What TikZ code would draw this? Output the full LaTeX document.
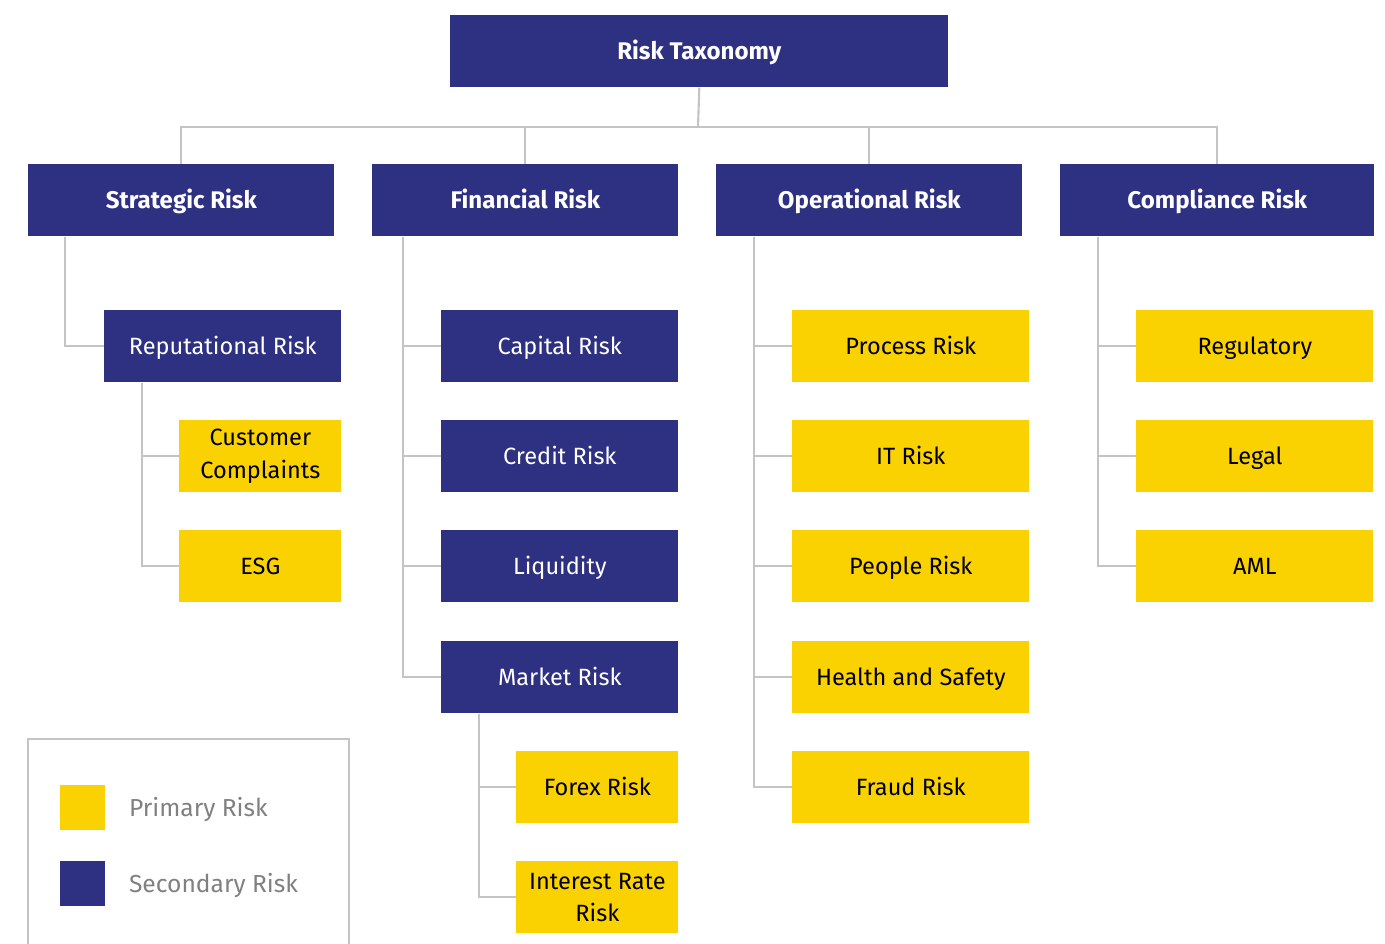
\documentclass[tikz,border=0pt]{standalone}
\usepackage{fontspec}
\setmainfont{Fira Sans}
\usetikzlibrary{positioning, calc}
\definecolor{navy}{HTML}{2E3081}
\definecolor{gold}{HTML}{FAD201}
\definecolor{wire}{HTML}{C4C4C4}
\definecolor{keytext}{HTML}{808080}
\newcommand{\boxfont}{\fontsize{13.4}{18.5}\selectfont}
\newcommand{\headfont}{\fontsize{13.7}{18.5}\selectfont\bfseries}

\begin{document}
\begin{tikzpicture}[x=0.02cm, y=-0.02cm,
    every node/.style={shape=rectangle, inner sep=0pt, minimum height=1.44cm, align=center, font=\boxfont,
        text height=1.8ex, text depth=0pt},
    head/.style={fill=navy, text=white, font=\headfont, minimum width=6.12cm, anchor=north west},
    second/.style={fill=navy, text=white, minimum width=4.74cm, anchor=north west},
    prime/.style={fill=gold, text=black, minimum width=4.74cm, anchor=north west},
    small/.style={minimum width=3.24cm},
    twoline/.style={text height=, text depth=},
    link/.style={draw=wire, line width=1.2pt}]
    \useasboundingbox (0,0) rectangle (1385,943);

    % top
    \node[head, minimum width=9.96cm] (root) at (450,15) {Risk Taxonomy};
    \node[head] (strat) at (28,164) {Strategic Risk};
    \node[head] (fin) at (372,164) {Financial Risk};
    \node[head] (ops) at (716,164) {Operational Risk};
    \node[head, minimum width=6.28cm] (comp) at (1060,164) {Compliance Risk};

    \coordinate (bus) at (698,127);
    \draw[link] (root.south) -- (bus);
    \foreach \n in {strat, fin, ops, comp}
        \draw[link] (bus) -| (\n.north);

    % strategic
    \node[second] (rep) at (104,310) {Reputational Risk};
    \node[prime, small, twoline] (cust) at (179,420) {Customer\\Complaints};
    \node[prime, small] (esg) at (179,530) {ESG};
    \draw[link] (strat.south west) ++(37,0) |- (rep.west);
    \foreach \n in {cust, esg}
        \draw[link] (rep.south west) ++(38,0) |- (\n.west);

    % financial
    \node[second] (cap) at (441,310) {Capital Risk};
    \node[second] (cred) at (441,420) {Credit Risk};
    \node[second] (liq) at (441,530) {Liquidity};
    \node[second] (mkt) at (441,641) {Market Risk};
    \node[prime, small] (forex) at (516,751) {Forex Risk};
    \node[prime, small, twoline] (rate) at (516,861) {Interest Rate\\Risk};
    \foreach \n in {cap, cred, liq, mkt}
        \draw[link] (fin.south west) ++(31,0) |- (\n.west);
    \foreach \n in {forex, rate}
        \draw[link] (mkt.south west) ++(38,0) |- (\n.west);

    % operational
    \node[prime] (proc) at (792,310) {Process Risk};
    \node[prime] (it) at (792,420) {IT Risk};
    \node[prime] (ppl) at (792,530) {People Risk};
    \node[prime] (hs) at (792,641) {Health and Safety};
    \node[prime] (fraud) at (792,751) {Fraud Risk};
    \foreach \n in {proc, it, ppl, hs, fraud}
        \draw[link] (ops.south west) ++(38,0) |- (\n.west);

    % compliance
    \node[prime] (reg) at (1136,310) {Regulatory};
    \node[prime] (legal) at (1136,420) {Legal};
    \node[prime] (aml) at (1136,530) {AML};
    \foreach \n in {reg, legal, aml}
        \draw[link] (comp.south west) ++(38,0) |- (\n.west);

    % legend
    \draw[link] (28,945) -- (28,739) -- (349,739) -- (349,945);
    \node[fill=gold, minimum width=0.9cm, minimum height=0.9cm, anchor=north west] (keyprime) at (60,785) {};
    \node[fill=navy, minimum width=0.9cm, minimum height=0.9cm, anchor=north west] (keysecond) at (60,861) {};
    \node[right=0.46cm of keyprime, text=keytext, minimum height=0pt, font=\fontsize{14}{18}\selectfont] (keyprimetext) {Primary Risk};
    \node[right=0.46cm of keysecond, text=keytext, minimum height=0pt, font=\fontsize{14}{18}\selectfont] (keysecondtext) {Secondary Risk};
\end{tikzpicture}
\end{document}
